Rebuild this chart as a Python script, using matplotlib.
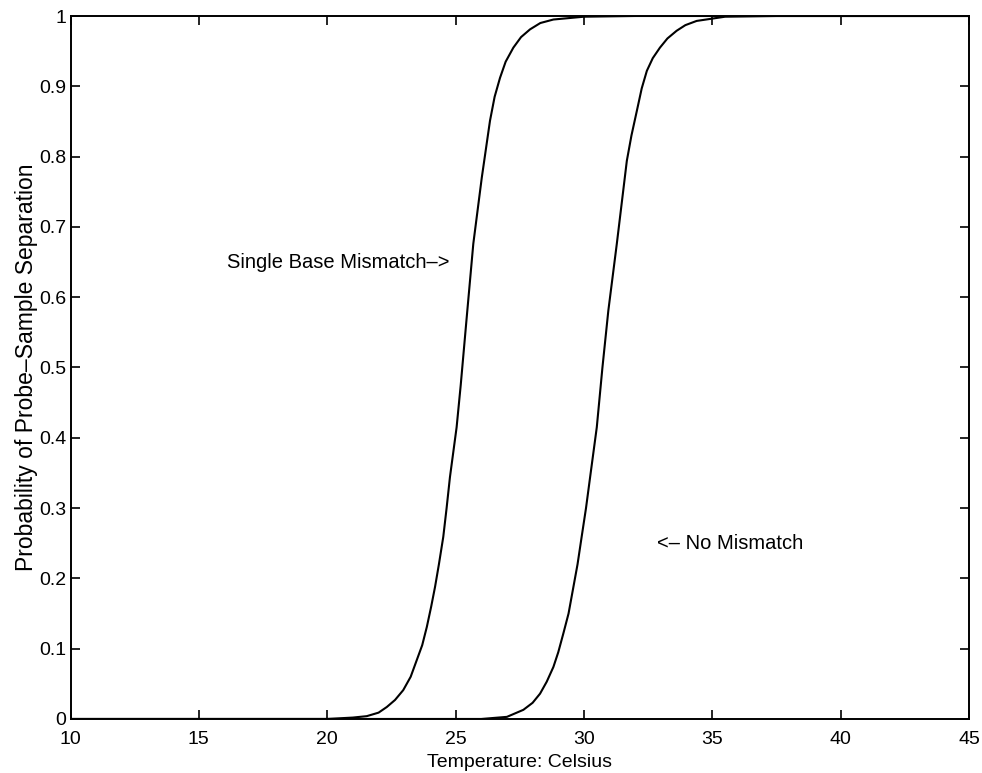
import matplotlib
matplotlib.use("Agg")
import matplotlib.pyplot as plt

plt.rcParams['font.family'] = ['Liberation Sans', 'DejaVu Sans']

# values
single_x = [10.0, 18.0, 20.0, 21.0, 21.54, 22.0, 22.32, 22.64, 22.96, 23.25, 23.49,
            23.70, 23.88, 24.05, 24.20, 24.35, 24.52, 24.65, 24.78, 25.04, 25.20,
            25.43, 25.69, 26.02, 26.34, 26.52, 26.73, 26.95, 27.25, 27.55, 27.90,
            28.30, 28.81, 30.0, 32.0, 45.0]
single_y = [0.0, 0.0, 0.0, 0.002, 0.004, 0.009, 0.017, 0.027, 0.041, 0.060, 0.084,
            0.105, 0.131, 0.160, 0.188, 0.220, 0.259, 0.300, 0.344, 0.415, 0.475,
            0.570, 0.676, 0.770, 0.851, 0.885, 0.912, 0.935, 0.955, 0.970, 0.981,
            0.990, 0.995, 0.999, 1.0, 1.0]

nomis_x = [10.0, 24.0, 26.0, 27.0, 27.64, 28.0, 28.29, 28.55, 28.81, 29.00, 29.20,
           29.40, 29.59, 29.75, 29.91, 30.08, 30.24, 30.50, 30.72, 30.95, 31.28,
           31.67, 31.85, 32.06, 32.25, 32.45, 32.68, 32.96, 33.25, 33.61, 33.95,
           34.39, 35.5, 37.5, 45.0]
nomis_y = [0.0, 0.0, 0.0, 0.003, 0.013, 0.023, 0.036, 0.053, 0.074, 0.095, 0.122,
           0.150, 0.188, 0.220, 0.259, 0.300, 0.344, 0.415, 0.500, 0.581, 0.676,
           0.794, 0.830, 0.865, 0.897, 0.922, 0.940, 0.955, 0.968, 0.979, 0.987,
           0.993, 0.999, 1.0, 1.0]

x_ticks = [10, 15, 20, 25, 30, 35, 40, 45]
y_ticks = [0, 0.1, 0.2, 0.3, 0.4, 0.5, 0.6, 0.7, 0.8, 0.9, 1]
y_labels = ['0', '0.1', '0.2', '0.3', '0.4', '0.5', '0.6', '0.7', '0.8', '0.9', '1']

fig = plt.figure(figsize=(9.82, 7.73), dpi=100)
ax = fig.add_axes([0.0718, 0.0699, 0.9150, 0.9094])

ax.plot(single_x, single_y, color='black', linewidth=1.5)
ax.plot(nomis_x, nomis_y, color='black', linewidth=1.5)

ax.set_xlim(10, 45)
ax.set_ylim(0, 1)
ax.set_xticks(x_ticks)
ax.set_yticks(y_ticks)
ax.set_yticklabels(y_labels)
ax.tick_params(direction='in', length=6.5, width=1.2, top=True, right=True,
               labelsize=14)
ax.tick_params(axis='x', pad=9)
ax.tick_params(axis='y', pad=3)
for s in ax.spines.values():
    s.set_linewidth(1.4)

ax.set_xlabel('Temperature: Celsius', fontsize=14, labelpad=4)
ax.set_ylabel('Probability of Probe\u2013Sample Separation', fontsize=16.5, labelpad=1)

ax.text(16.1, 0.65, 'Single Base Mismatch\u2013>', fontsize=14.5, ha='left', va='center')
ax.text(32.85, 0.25, '<\u2013 No Mismatch', fontsize=14.5, ha='left', va='center')

fig.savefig('out.png', dpi=100)
